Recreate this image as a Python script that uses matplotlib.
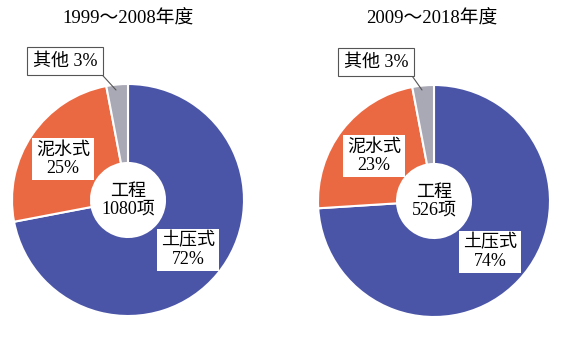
import matplotlib
matplotlib.use("Agg")
import matplotlib.pyplot as plt

plt.rcParams['font.family'] = ['Liberation Serif', 'Noto Sans CJK SC']

# data
labels = ["土压式", "泥水式", "其他"]
shares_1 = [72, 25, 3]
shares_2 = [74, 23, 3]
titles = ["1999～2008年度", "2009～2018年度"]
counts = [1080, 526]
colors = ["#4A55A8", "#EA6942", "#A9A8B5"]

W, H = 564, 342
fig = plt.figure(figsize=(W / 100, H / 100), dpi=100)
ax = fig.add_axes([0, 0, 1, 1])

# layout in pixel coords (y up)
centers = [(128, 142), (434, 141)]
radius = 116
hole = 37
title_pos = [(128, 323), (432, 323)]
big_pos = [(188, 92), (490, 90)]
mid_pos = [(63, 183), (374, 186)]
other_box = [(65, 281), (376, 280)]
other_tip = [(116, 252), (422, 252)]

box = dict(boxstyle="square,pad=0.2", fc="white", ec="none")

for i, shares in enumerate([shares_1, shares_2]):
    cx, cy = centers[i]
    ax.pie(shares, colors=colors, startangle=90, counterclock=False,
           center=(cx, cy), radius=radius, frame=True,
           wedgeprops=dict(width=radius - hole, edgecolor="white", linewidth=1.5))
    ax.text(*title_pos[i], titles[i], ha="center", va="center", fontsize=13.5)
    ax.text(cx, cy, "工程\n%d项" % counts[i], ha="center", va="center",
            fontsize=13, linespacing=1.05)
    ax.text(*big_pos[i], "%s\n%d%%" % (labels[0], shares[0]), ha="center",
            va="center", fontsize=13, linespacing=1.1, bbox=box)
    ax.text(*mid_pos[i], "%s\n%d%%" % (labels[1], shares[1]), ha="center",
            va="center", fontsize=13, linespacing=1.1, bbox=box)
    ax.annotate("%s %d%%" % (labels[2], shares[2]), xy=other_tip[i],
                xytext=other_box[i], ha="center", va="center", fontsize=13,
                bbox=dict(boxstyle="square,pad=0.3", fc="white", ec="#555555", lw=0.8),
                arrowprops=dict(arrowstyle="-", color="#555555", lw=0.8,
                                relpos=(1, 0), shrinkA=0, shrinkB=0))

ax.set_xlim(0, W)
ax.set_ylim(0, H)
ax.set_aspect("equal")
ax.axis("off")

fig.savefig("out.png", dpi=100)
